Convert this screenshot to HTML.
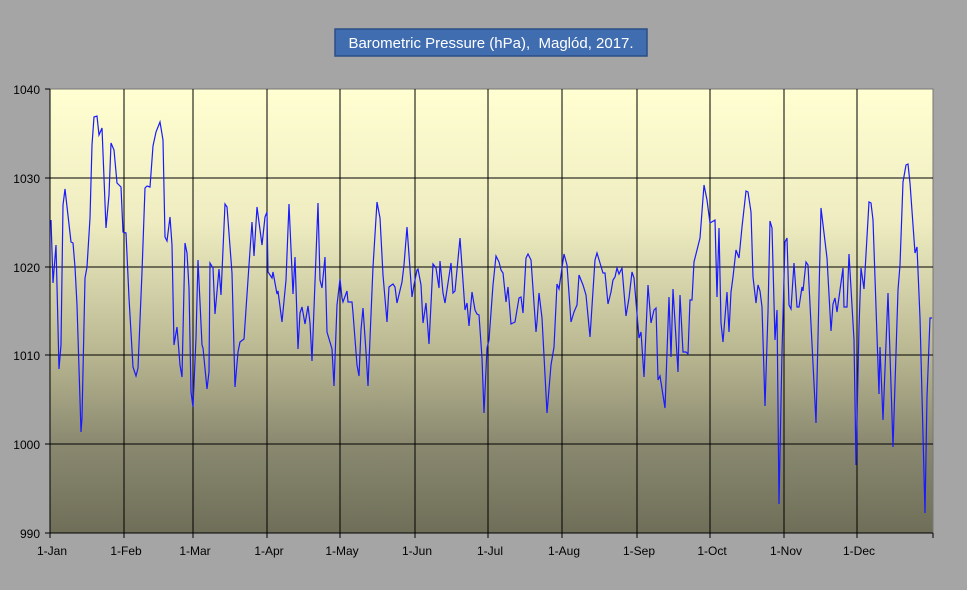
<!DOCTYPE html>
<html><head><meta charset="utf-8"><style>
body{margin:0;width:967px;height:590px;background:#a5a5a5;overflow:hidden;font-family:"Liberation Sans",sans-serif}
</style></head><body>
<svg width="967" height="590" xmlns="http://www.w3.org/2000/svg" style="position:absolute;left:0;top:0">
<defs><linearGradient id="g" x1="0" y1="0" x2="0" y2="1">
<stop offset="0" stop-color="#ffffd2"/><stop offset="0.3" stop-color="#eeecc0"/><stop offset="0.6" stop-color="#b8b690"/><stop offset="0.8" stop-color="#8a8970"/><stop offset="1" stop-color="#6f6e58"/></linearGradient></defs>
<rect x="335" y="29" width="312" height="27" fill="#3f6db0" stroke="#2a4e85" stroke-width="1.5"/>
<text x="491" y="48" font-size="15" fill="#fff" text-anchor="middle" font-family="Liberation Sans, sans-serif">Barometric Pressure (hPa), &#160;Maglód, 2017.</text>
<rect x="50" y="89" width="883" height="444" fill="url(#g)" stroke="#777" stroke-width="1"/>
<g stroke="#000" stroke-width="1">
<line x1="50" y1="178" x2="933" y2="178"/><line x1="50" y1="267" x2="933" y2="267"/><line x1="50" y1="355" x2="933" y2="355"/><line x1="50" y1="444" x2="933" y2="444"/>
<line x1="50" y1="89" x2="50" y2="538"/><line x1="124" y1="89" x2="124" y2="538"/><line x1="193" y1="89" x2="193" y2="538"/><line x1="267" y1="89" x2="267" y2="538"/><line x1="340" y1="89" x2="340" y2="538"/><line x1="415" y1="89" x2="415" y2="538"/><line x1="488" y1="89" x2="488" y2="538"/><line x1="562" y1="89" x2="562" y2="538"/><line x1="637" y1="89" x2="637" y2="538"/><line x1="710" y1="89" x2="710" y2="538"/><line x1="784" y1="89" x2="784" y2="538"/><line x1="857" y1="89" x2="857" y2="538"/><line x1="933" y1="533" x2="933" y2="538"/>
<line x1="45" y1="89" x2="50" y2="89"/><line x1="45" y1="178" x2="50" y2="178"/><line x1="45" y1="267" x2="50" y2="267"/><line x1="45" y1="355" x2="50" y2="355"/><line x1="45" y1="444" x2="50" y2="444"/><line x1="45" y1="533" x2="933" y2="533"/>
</g>
<g font-size="12" fill="#000" text-anchor="end">
<text x="40" y="94">1040</text><text x="40" y="183">1030</text><text x="40" y="272">1020</text><text x="40" y="360">1010</text><text x="40" y="449">1000</text><text x="40" y="538">990</text></g>
<g font-size="12" fill="#000" text-anchor="middle">
<text x="52" y="555">1-Jan</text><text x="126" y="555">1-Feb</text><text x="195" y="555">1-Mar</text><text x="269" y="555">1-Apr</text><text x="342" y="555">1-May</text><text x="417" y="555">1-Jun</text><text x="490" y="555">1-Jul</text><text x="564" y="555">1-Aug</text><text x="639" y="555">1-Sep</text><text x="712" y="555">1-Oct</text><text x="786" y="555">1-Nov</text><text x="859" y="555">1-Dec</text></g>
<polyline fill="none" stroke="#1a1aff" stroke-width="1.2" points="
51,220 53,283 56,245 59,369 61,345 63,205 65,189 71,242 73,243 75,267 77,305 81,432 82,418 85,278 87,267 90,218 92,145 94,117 97,116 99,135 102,128 106,228 109,195 111,143 114,150 117,183 121,187 123,232 126,233 129,298 133,367 136,376 138,368 142,272 145,188 147,186 150,187 153,146 156,132 160,122 163,140 165,237 167,241 170,217 172,245 174,345 177,327 180,365 182,377 185,243 187,253 189,288 191,392 193,407 196,338 198,260 202,345 203,348 207,389 209,372 210,263 213,268 215,314 219,269 221,295 225,204 227,207 232,273 235,387 238,352 240,342 244,339 249,265 252,222 254,256 257,207 262,245 265,217 267,212
268,272 272,278 273,272 277,294 278,291 282,322 286,280 289,204 293,294 295,257 298,349 300,313 302,307 305,324 308,306 310,323 312,361 318,203 320,280 322,288 325,257 327,332 332,349 334,386 337,305 340,279 342,298 343,302 347,291 348,302 352,302 353,313 357,365 359,376 361,330 363,308 366,352 368,386 373,267 377,202 380,218 383,275 387,322 389,287 393,284 395,287 397,303 402,282 404,265 407,227 412,297 414,285 417,270 418,269 421,285 423,323 426,303 429,344 433,264 436,268 439,288 440,261 443,293 445,303 451,263 453,293 455,291 460,238 465,310 467,303 469,326 472,292 475,310 477,314 479,315 482,358
484,413 487,348 489,340 493,285 496,256 499,262 501,270 503,273 506,302 508,287 511,324 515,322 519,298 521,297 523,313 526,258 528,254 531,260 536,332 537,322 539,293 542,318 547,413 551,365 554,347 557,284 559,289 564,254 567,265 571,322 574,312 577,305 579,275 583,285 586,295 590,337 595,260 597,253 600,263 603,273 605,273 608,304 611,292 613,280 615,277 617,268 619,274 622,268 626,316 629,298 632,272 634,278 639,338 641,332 644,377 648,285 651,323 654,310 656,308 658,380 660,376 665,408 669,297 671,357 673,289 678,372 680,295 683,352 686,352 688,354 690,300 692,300 694,262
700,238 704,185 707,200 710,223 715,220 717,297 719,228 721,323 723,342 727,292 729,332 731,292 733,277 736,250 739,258 742,227 746,191 748,192 751,212 753,277 756,303 758,285 760,291 762,307 765,406 768,312 770,221 772,228 775,340 777,310 779,504 782,352 785,242 787,238 789,305 791,309 794,263 797,307 799,307 802,287 803,291 806,262 808,265 816,423 821,208 827,258 831,331 833,304 835,298 837,312 843,268 844,307 847,307 849,254 854,340 856,465 859,328 861,268 864,289 869,202 871,203 873,220 879,394 880,347 883,420 888,293 893,447 898,290 900,265 903,182 906,165 908,164 910,183 915,253 917,247 920,318 925,513 927,397 930,318 932,318"/>
</svg>
</body></html>
